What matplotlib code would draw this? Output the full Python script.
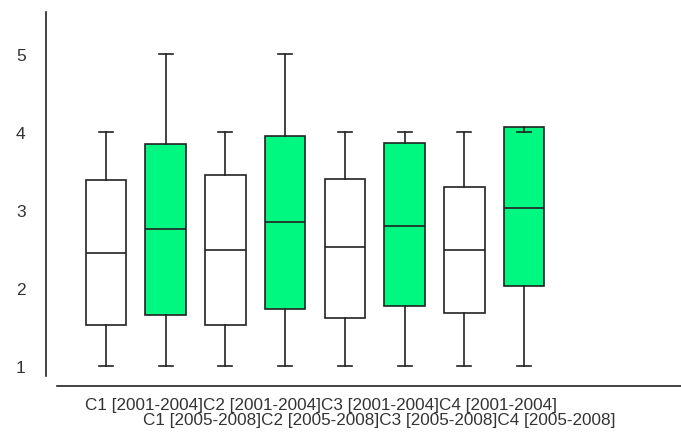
import matplotlib
matplotlib.use('Agg')
import matplotlib.pyplot as plt

# Box statistics per group (min, Q1, median, Q3, max)
groups = ['C1 [2001-2004]', 'C1 [2005-2008]', 'C2 [2001-2004]', 'C2 [2005-2008]',
          'C3 [2001-2004]', 'C3 [2005-2008]', 'C4 [2001-2004]', 'C4 [2005-2008]']
mins = [1, 1, 1, 1, 1, 1, 1, 1]
q1s = [1.53, 1.65, 1.53, 1.73, 1.62, 1.77, 1.68, 2.02]
medians = [2.45, 2.75, 2.49, 2.85, 2.52, 2.80, 2.49, 3.03]
q3s = [3.39, 3.84, 3.45, 3.95, 3.40, 3.86, 3.29, 4.06]
maxs = [4, 5, 4, 5, 4, 4, 4, 4]
y_ticks = [1, 2, 3, 4, 5]

plt.rcParams['font.family'] = ['Liberation Sans', 'DejaVu Sans']
line_col = '#222222'
text_col = '#333333'
fills = ['white', '#00f880'] * 4

fig = plt.figure(figsize=(6.81, 4.35), dpi=100)
ax = fig.add_axes([45.7 / 681, 1 - 386.7 / 435, 1 - 45.7 / 681, (386.7 - 13) / 435])

stats = []
for g, lo, a, m, b, hi in zip(groups, mins, q1s, medians, q3s, maxs):
    stats.append({'label': g, 'whislo': lo, 'q1': a, 'med': m, 'q3': b, 'whishi': hi})

positions = list(range(1, len(stats) + 1))
bp = ax.bxp(stats, positions=positions, widths=0.68, capwidths=0.235,
            showfliers=False, patch_artist=True,
            boxprops=dict(edgecolor=line_col, linewidth=1.2),
            medianprops=dict(color=line_col, linewidth=1.2),
            whiskerprops=dict(color=line_col, linewidth=1.2),
            capprops=dict(color=line_col, linewidth=1.2))
for patch, c in zip(bp['boxes'], fills):
    patch.set_facecolor(c)

ax.set_xlim(-0.01, 10.63)
ax.set_ylim(0.7474, 5.538)

# detached axis lines
for s in ['top', 'right']:
    ax.spines[s].set_visible(False)
ax.spines['left'].set_bounds(0.872, 5.538)
ax.spines['bottom'].set_bounds(0.179, 10.63)
for s in ['left', 'bottom']:
    ax.spines[s].set_color(line_col)
    ax.spines[s].set_linewidth(1.2)

ax.set_yticks(y_ticks)
ax.set_yticklabels([str(t) for t in y_ticks])
ax.tick_params(axis='y', length=0, pad=14.5, labelsize=12.5, labelcolor=text_col)
ax.set_xticks([])

# staggered group labels under the axis
row1 = ''.join(groups[0::2])
row2 = ''.join(groups[1::2])
fig.text(85 / 681, 1 - 406 / 435, row1, ha='left', va='center', fontsize=12.35, color=text_col)
fig.text(143 / 681, 1 - 421 / 435, row2, ha='left', va='center', fontsize=12.35, color=text_col)

fig.savefig('out.png', dpi=100)
